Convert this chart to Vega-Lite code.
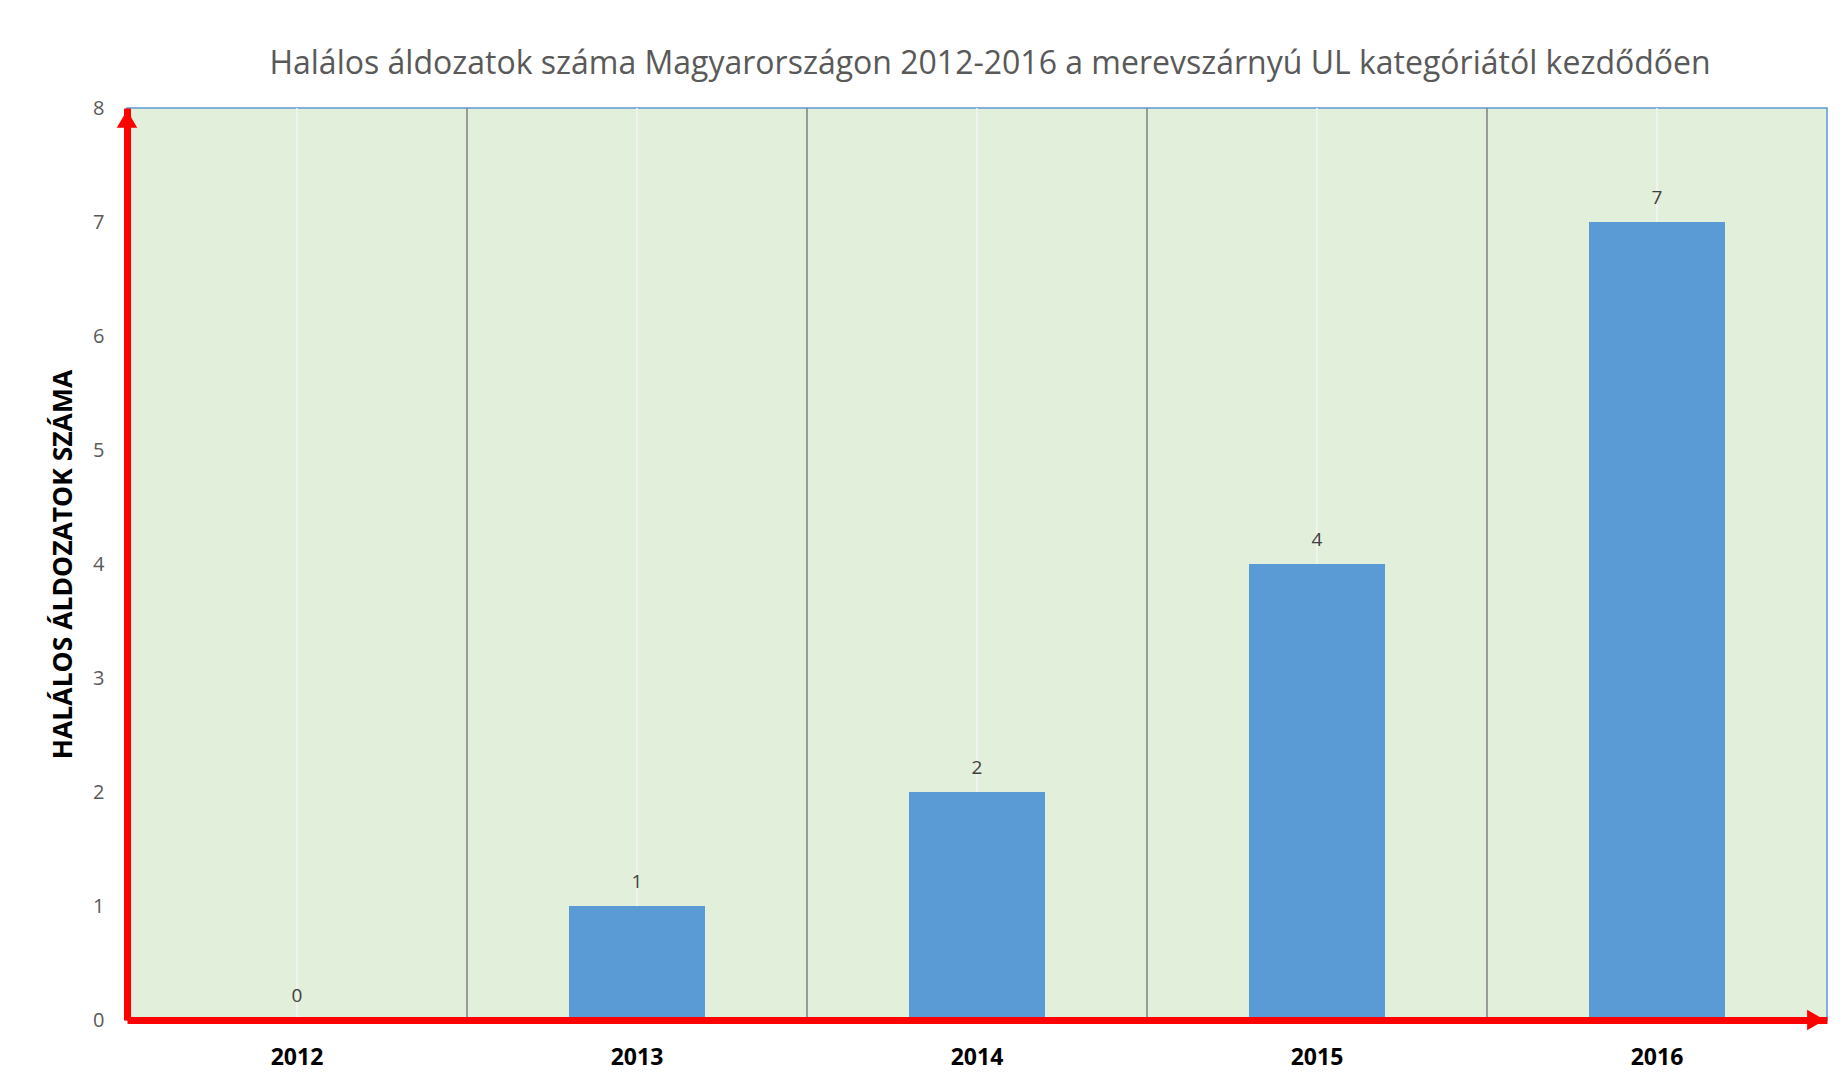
{
  "$schema": "https://vega.github.io/schema/vega-lite/v6.json",
  "width": 1700,
  "height": 912,
  "autosize": {"type": "none"},
  "padding": {"left": 127, "top": 108, "right": 18, "bottom": 61},
  "background": "white",
  "title": {
    "text": "Halálos áldozatok száma Magyarországon 2012-2016 a merevszárnyú UL kategóriától kezdődően",
    "font": "Open Sans",
    "fontSize": 32,
    "fontWeight": "normal",
    "color": "#595959",
    "anchor": "middle",
    "frame": "group",
    "offset": 17,
    "dx": 13
  },
  "config": {
    "view": {"fill": "#E2EFDA", "stroke": "#5B9BD5", "strokeWidth": 1.5}
  },
  "datasets": {
    "deaths": [
      {"year": "2012", "value": 0},
      {"year": "2013", "value": 1},
      {"year": "2014", "value": 2},
      {"year": "2015", "value": 4},
      {"year": "2016", "value": 7}
    ],
    "arrowUp": [{"year": "2012", "value": 8}],
    "arrowRight": [{"year": "2016", "value": 0}]
  },
  "data": {"name": "deaths"},
  "encoding": {
    "x": {
      "field": "year",
      "type": "ordinal",
      "scale": {"paddingInner": 0, "paddingOuter": 0},
      "axis": {
        "title": null,
        "labelAngle": 0,
        "labelFont": "Open Sans",
        "labelFontSize": 23,
        "labelFontWeight": "bold",
        "labelColor": "#000000",
        "labelPadding": 26,
        "ticks": false,
        "domainColor": "#FF0000",
        "domainWidth": 7,
        "grid": false,
        "zindex": 1
      }
    },
    "y": {
      "field": "value",
      "type": "quantitative",
      "scale": {"domain": [0, 8], "nice": false},
      "axis": {
        "title": "HALÁLOS ÁLDOZATOK SZÁMA",
        "titleFont": "Open Sans",
        "titleFontSize": 26.5,
        "titleFontWeight": "bold",
        "titleColor": "#000000",
        "titlePadding": 15,
        "values": [0, 1, 2, 3, 4, 5, 6, 7, 8],
        "labelFont": "Open Sans",
        "labelFontSize": 20,
        "labelColor": "#595959",
        "labelPadding": 23,
        "ticks": false,
        "grid": false,
        "domainColor": "#FF0000",
        "domainWidth": 7,
        "zindex": 1
      }
    }
  },
  "layer": [
    {
      "mark": {"type": "rule", "color": "#F4F4F4", "strokeWidth": 1.5},
      "encoding": {
        "x": {"field": "year", "type": "ordinal", "bandPosition": 0.5},
        "y": null
      }
    },
    {
      "transform": [{"filter": "datum.year != '2012'"}],
      "mark": {"type": "rule", "color": "#7F7F7F", "strokeWidth": 1.5},
      "encoding": {
        "x": {"field": "year", "type": "ordinal", "bandPosition": 0},
        "y": null
      }
    },
    {
      "mark": {"type": "bar", "color": "#5B9BD5", "width": {"band": 0.4}}
    },
    {
      "mark": {
        "type": "text",
        "font": "Open Sans",
        "fontSize": 19,
        "color": "#404040",
        "baseline": "bottom",
        "dy": -14
      },
      "encoding": {"text": {"field": "value", "type": "quantitative"}}
    },
    {
      "data": {"name": "arrowUp"},
      "mark": {"type": "point", "shape": "triangle-up", "filled": true, "color": "#FF0000", "size": 420, "opacity": 1, "yOffset": 11},
      "encoding": {
        "x": {"field": "year", "type": "ordinal", "bandPosition": 0}
      }
    },
    {
      "data": {"name": "arrowRight"},
      "mark": {"type": "point", "shape": "triangle-right", "filled": true, "color": "#FF0000", "size": 420, "opacity": 1, "xOffset": -11},
      "encoding": {
        "x": {"field": "year", "type": "ordinal", "bandPosition": 1}
      }
    }
  ]
}
